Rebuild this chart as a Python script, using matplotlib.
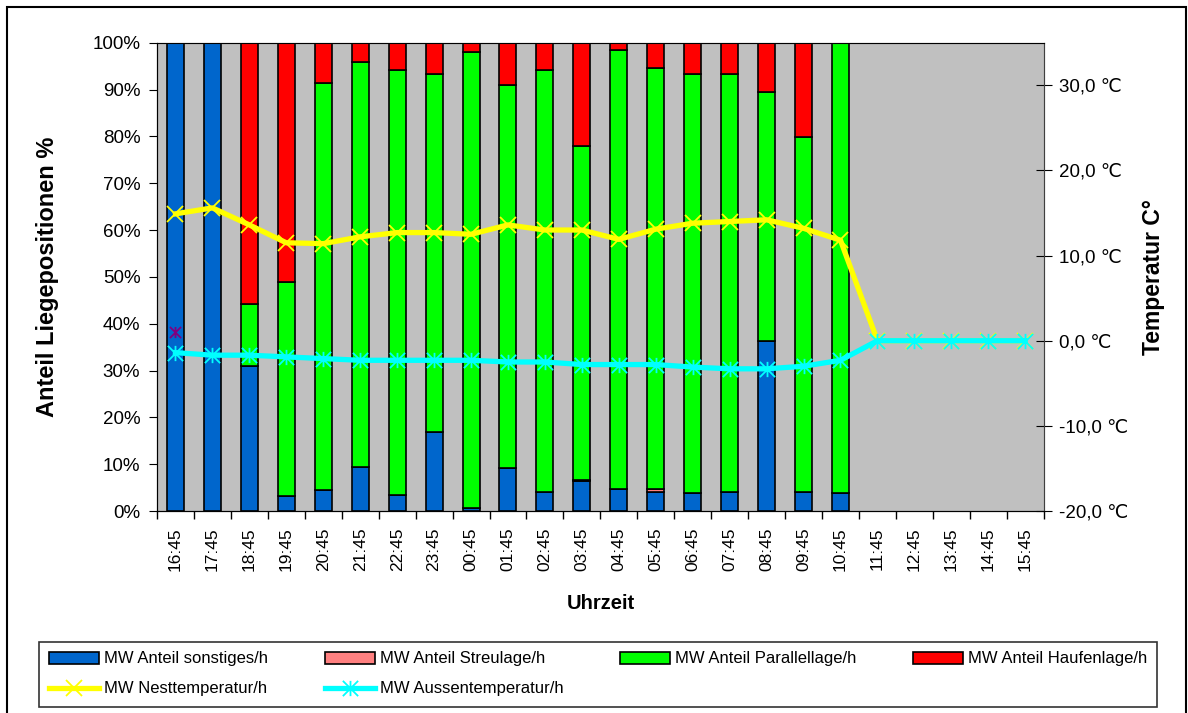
import numpy as np
import matplotlib
matplotlib.use("Agg")
import matplotlib.pyplot as plt
from matplotlib.path import Path
from matplotlib.patches import Rectangle
from matplotlib.ticker import FuncFormatter, MultipleLocator

plt.rcParams["font.family"] = ["Liberation Sans", "DejaVu Sans"]

times = ["16:45", "17:45", "18:45", "19:45", "20:45", "21:45", "22:45", "23:45",
         "00:45", "01:45", "02:45", "03:45", "04:45", "05:45", "06:45", "07:45",
         "08:45", "09:45", "10:45", "11:45", "12:45", "13:45", "14:45", "15:45"]

# Anteile in % (nur Stunden mit Beobachtung)
sonstiges = [100, 100, 31.0, 3.1, 4.5, 9.5, 3.4, 16.8, 0.7, 9.2,
             4.1, 6.4, 4.8, 4.1, 3.8, 4.1, 36.3, 4.1, 3.8]
streulage = [0, 0, 0, 0, 0, 0, 0, 0, 0, 0,
             0, 0.3, 0, 0.7, 0, 0, 0, 0, 0]
parallellage = [0, 0, 13.2, 45.7, 87.0, 86.3, 90.7, 76.6, 97.4, 81.8,
                90.0, 71.3, 93.6, 89.7, 89.6, 89.3, 53.2, 75.8, 96.2]
haufenlage = [0, 0, 55.8, 51.2, 8.5, 4.2, 5.9, 6.6, 1.9, 9.0,
              5.9, 22.0, 1.6, 5.5, 6.6, 6.6, 10.5, 20.1, 0]

# Temperaturen in °C
nesttemp = [14.9, 15.6, 13.6, 11.5, 11.4, 12.2, 12.7, 12.7, 12.5, 13.6,
            13.0, 13.0, 11.9, 13.1, 13.8, 14.0, 14.2, 13.2, 11.8,
            0, 0, 0, 0, 0]
aussentemp = [-1.4, -1.7, -1.7, -1.9, -2.1, -2.3, -2.3, -2.3, -2.3, -2.5,
              -2.5, -2.8, -2.8, -2.8, -3.1, -3.3, -3.3, -3.0, -2.3,
              0, 0, 0, 0, 0]
einzelwert = [1.0]

# Stern wie in Excel: Kreuz plus senkrechter Strich
star = Path([(0, -1), (0, 1), (-1, -1), (1, 1), (-1, 1), (1, -1)],
            [Path.MOVETO, Path.LINETO, Path.MOVETO, Path.LINETO, Path.MOVETO, Path.LINETO])

fig = plt.figure(figsize=(11.88, 7.13), dpi=100)
ax = fig.add_axes([157 / 1188, 202 / 713, 886.7 / 1188, 468.3 / 713])
ax.set_facecolor("#C0C0C0")

x = np.arange(len(sonstiges))
w = 0.46
bar_kw = dict(width=w, edgecolor="black", linewidth=1.2)
b1 = ax.bar(x, sonstiges, color="#0066CC", label="MW Anteil sonstiges/h", **bar_kw)
bottom = np.array(sonstiges, dtype=float)
b2 = ax.bar(x, streulage, bottom=bottom, color="#FF8080", label="MW Anteil Streulage/h", **bar_kw)
bottom += streulage
b3 = ax.bar(x, parallellage, bottom=bottom, color="#00FF00", label="MW Anteil Parallellage/h", **bar_kw)
bottom += parallellage
b4 = ax.bar(x, haufenlage, bottom=bottom, color="#FF0000", label="MW Anteil Haufenlage/h", **bar_kw)

ax.set_xlim(-0.5, len(times) - 0.5)
ax.set_ylim(0, 100)
ax.yaxis.set_major_locator(MultipleLocator(10))
ax.yaxis.set_major_formatter(FuncFormatter(lambda v, p: f"{v:.0f}%"))
ax.set_xticks(np.arange(len(times)))
ax.set_xticklabels(times, rotation=90, fontsize=12.5)
ax.set_xticks(np.arange(len(times) + 1) - 0.5, minor=True)
ax.tick_params(axis="x", which="major", length=0, pad=12)
ax.tick_params(axis="x", which="minor", length=6, width=1, direction="out")
ax.tick_params(axis="y", labelsize=13.5, length=6, direction="out", pad=6)
ax.set_ylabel("Anteil Liegepositionen %", fontsize=17, fontweight="bold", labelpad=24)
ax.set_xlabel("Uhrzeit", fontsize=14.5, fontweight="bold", labelpad=16)
for side in ["left", "bottom"]:
    ax.spines[side].set_color("black")
for side in ["top", "right"]:
    ax.spines[side].set_color("#808080")

ax2 = ax.twinx()
ax2.set_ylim(-20, 35)
ax2.set_yticks(np.arange(-20, 31, 10))
ax2.yaxis.set_major_formatter(FuncFormatter(lambda v, p: f"{v:.1f}".replace(".", ",") + " \u2103"))
ax2.tick_params(axis="y", labelsize=13.5, length=12, direction="inout", pad=5)
ax2.spines["right"].set_color("#404040")
ax2.set_ylabel("Temperatur C°", fontsize=16.5, fontweight="bold", labelpad=10)

tx = np.arange(len(times))
l1, = ax2.plot(tx, nesttemp, color="#FFFF00", lw=3.8, marker="x", ms=11, mew=1.3,
               label="MW Nesttemperatur/h", zorder=3)
l2, = ax2.plot(tx, aussentemp, color="#00FFFF", lw=3.8, marker=star, ms=11, mew=1.3,
               label="MW Aussentemperatur/h", zorder=4)
ax2.plot([0], einzelwert, ls="none", marker=star, ms=8, mew=1.3, color="#800080", zorder=5)

# Legende unten, Spalten werden spaltenweise gefuellt
handles = [b1, l1, b2, l2, b3, b4]
leg = fig.legend(handles=handles, labels=[h.get_label() for h in handles],
                 loc="upper left", bbox_to_anchor=(39 / 1188, 0, 1118 / 1188, 71.5 / 713),
                 mode="expand", ncol=4, fontsize=12, frameon=True, fancybox=False,
                 edgecolor="black", handlelength=3.0, handletextpad=0.3,
                 labelspacing=0.9, borderpad=0.6, borderaxespad=0)
leg.get_frame().set_linewidth(1.2)

# Rahmen um die gesamte Grafik
fig.patches.append(Rectangle((7 / 1188, -0.05), 1179 / 1188, 1.05 - 7 / 713,
                             transform=fig.transFigure, fill=False,
                             edgecolor="black", linewidth=1.5))

fig.savefig("out.png", dpi=100)
plt.close(fig)
